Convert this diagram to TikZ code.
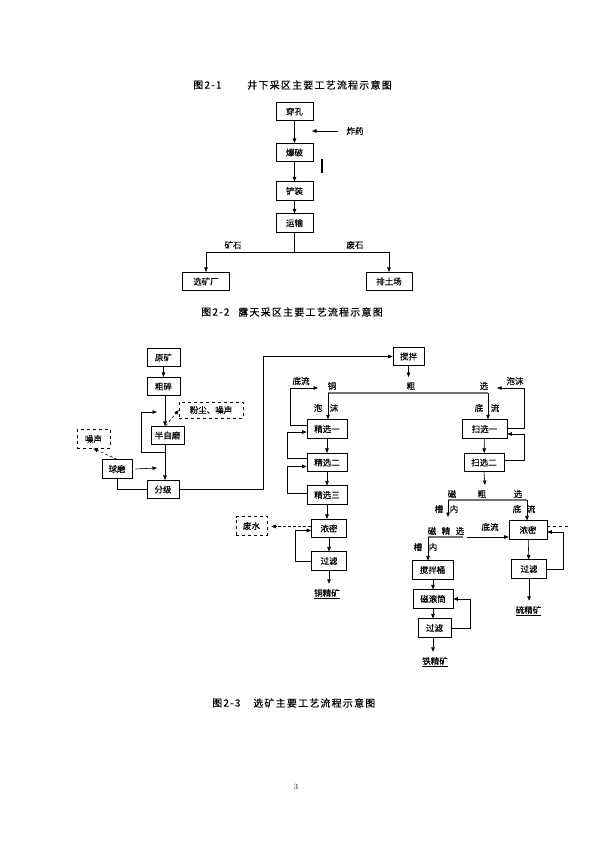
\documentclass[tikz,border=0pt]{standalone}
\usepackage{fontspec}
\newfontfamily\cjk[FakeBold=0.2]{Noto Sans CJK SC}
\newfontfamily\cjkt[LetterSpace=12,FakeBold=0.15]{Noto Sans CJK SC}
\usetikzlibrary{arrows.meta,calc}

\tikzset{
  box/.style={draw, line width=0.6pt, minimum height=18.5pt, inner sep=1pt, font=\cjk\fontsize{8.5}{9}\selectfont},
  dbox/.style={box, dashed},
  lbl/.style={inner sep=0pt, font=\cjk\fontsize{8.5}{9}\selectfont},
  ttl/.style={inner sep=0pt, anchor=west, font=\cjkt\fontsize{10}{12}\selectfont},
  arr/.style={line width=0.6pt, -{Triangle[length=4.5pt,width=3.5pt]}},
  dotarr/.style={arr, densely dashed},
  sepline/.style={line width=1.6pt, draw=black!55}
}

\begin{document}
\begin{tikzpicture}[x=1pt, y=-1pt, line width=0.6pt]
    \path[use as bounding box, fill=white] (0,0) rectangle (595,842);

    % 图2-1 / 图2-2
    \node[ttl] (t1a) at (193,85) {图2-1};
    \node[ttl] (t1b) at (247,85) {井下采区主要工艺流程示意图};
    \node[box, minimum width=37pt] (ck) at (294.5,111.5) {穿孔};
    \node[box, minimum width=37pt] (bp) at (294.5,152.5) {爆破};
    \node[box, minimum width=37pt] (cz) at (294.5,191) {铲装};
    \node[box, minimum width=37pt] (ys) at (294.5,223) {运输};
    \node[box, minimum width=47pt] (xk) at (206,281.5) {选矿厂};
    \node[box, minimum width=46pt] (pt) at (389,281.5) {排土场};
    \node[lbl] (zy) at (355,131) {炸药};
    \coordinate (zye) at (312,131);
    \coordinate (fork) at (294.5,252);
    \draw[arr] (ck) -- (bp);
    \draw[arr] (bp) -- (cz);
    \draw[arr] (cz) -- (ys);
    \draw[arr] ([xshift=-8pt]zy.west) -- (zye);
    \draw[line width=1.6pt] (322,159) -- (322,173);
    \draw (ys) -- (fork);
    \draw[arr] (fork) -| (xk);
    \draw[arr] (fork) -| (pt);
    \node[lbl] at (233,245) {矿石};
    \node[lbl] at (355,245) {废石};
    \node[ttl] (t2a) at (201,312) {图2-2};
    \node[ttl] (t2b) at (238,312) {露天采区主要工艺流程示意图};

    % 图2-3 左部
    \node[box, minimum width=33pt] (ym) at (163.5,357.5) {原矿};
    \node[box, minimum width=33pt] (cs) at (163.5,386.5) {粗碎};
    \node[box, minimum width=33pt] (bzm) at (167.5,435.5) {半自磨};
    \node[dbox, minimum width=64pt, minimum height=16pt] (fc) at (211,410) {粉尘、噪声};
    \node[dbox, minimum width=33pt] (zs) at (93.5,439) {噪声};
    \node[box, minimum width=30pt] (qm) at (117,469) {球磨};
    \node[box, minimum width=32pt] (fj) at (163,489.5) {分级};
    \coordinate (mx) at (165,0);
    \coordinate (lp) at (141,452);
    \coordinate (lpe) at (157,412);
    \coordinate (qme) at (157,468);
    \coordinate (up) at (263,0);
    \draw[arr] (ym) -- (cs);
    \draw[arr] (cs.south -| mx) -- (bzm.north -| mx);
    \draw[arr] (bzm.south -| mx) -- (fj.north -| mx);
    \draw[arr] (mx |- lp) -- (lp) |- (lpe);
    \draw[dotarr] ([xshift=-2pt]bzm.north) -- (fc.west);
    \draw[dotarr] (qm.north) -- (zs.south);
    \draw[arr] ([xshift=3pt]qm.east) -- (qme);
    \draw (fj.west) -| (qm.south);

    % 铜 粗 选
    \node[box, minimum width=31pt] (jb) at (408.5,356.5) {搅拌};
    \coordinate (jbe) at (408.5,377);
    \coordinate (cuL) at (328,393);
    \coordinate (cuR) at (488,393);
    \draw[arr] (fj.east) -| (up |- jb.west) -- (jb.west);
    \draw[arr] (jb.south) -- (jbe);
    \draw[sepline] (cuL) -- (cuR);
    \node[lbl] at (332,386) {铜};
    \node[lbl] at (411,386) {粗};
    \node[lbl] at (484,386) {选};

    \node[box, minimum width=40pt] (jx1) at (327,429) {精选一};
    \node[box, minimum width=40pt] (jx2) at (327,462.5) {精选二};
    \node[box, minimum width=40pt] (jx3) at (327,495) {精选三};
    \node[box, minimum width=35pt] (nm1) at (329,528.5) {浓密};
    \node[box, minimum width=35pt] (gl1) at (329,561) {过滤};
    \node[dbox, minimum width=31pt] (fs) at (251.5,526) {废水};
    \node[lbl] (tjk) at (327,594) {\underline{铜精矿}};
    \coordinate (dl) at (290,388);
    \coordinate (dle) at (318,388);
    \draw[arr] (cuL) -- (cuL |- jx1.north);
    \node[lbl] at (318,408) {泡};
    \node[lbl] at (334,408) {沫};
    \node[lbl] at (301,381) {底流};
    \draw[arr] ([yshift=4pt]jx1.west) -| (dl) -- (dle);
    \draw[arr] ([yshift=4pt]jx2.west) -- ++(-19,0) |- ([yshift=-3pt]jx1.west);
    \draw[arr] ([yshift=2pt]jx3.west) -- ++(-19,0) |- ([yshift=-4pt]jx2.west);
    \draw[arr] (jx1) -- (jx2);
    \draw[arr] (jx2) -- (jx3);
    \draw[arr] (jx3.south) -- (jx3.south |- nm1.north);
    \draw[dotarr, shorten >=4pt] ([yshift=2pt]nm1.west) -- ([yshift=2pt]nm1.west -| fs.east);
    \draw[arr] (nm1) -- (gl1);
    \draw[arr] (gl1.west) -- ++(-16,0) |- ([yshift=-2pt]nm1.west);
    \draw[arr, shorten >=5pt] (gl1.south) -- (gl1.south |- tjk.north);

    % 扫选
    \node[box, minimum width=45pt] (sx1) at (484.5,429) {扫选一};
    \node[box, minimum width=40pt] (sx2) at (484,462.5) {扫选二};
    \coordinate (dre) at (497,388);
    \coordinate (sxe) at (485,485);
    \draw[arr] (cuR) -- (cuR |- sx1.north);
    \node[lbl] at (479,408) {底};
    \node[lbl] at (495,408) {流};
    \node[lbl] at (515,381) {泡沫};
    \draw[arr] ([yshift=1pt]sx1.east) -- ++(17,0) |- (dre);
    \draw[arr] ([yshift=2pt]sx2.east) -- ++(20,0) |- ([yshift=-5pt]sx1.east);
    \draw[arr] (sx1) -- (sx2);
    \draw[arr] (sx2.south) -- (sxe);

    % 磁 粗 选
    \coordinate (mL) at (448,500);
    \coordinate (mR) at (527,500);
    \coordinate (mLe) at (448,517);
    \draw[sepline] (mL) -- (mR);
    \node[lbl] at (452,494) {磁};
    \node[lbl] at (482,494) {粗};
    \node[lbl] at (518,494) {选};
    \node[lbl] at (439,509) {槽};
    \node[lbl] at (454,509) {内};
    \node[lbl] at (517,509) {底};
    \node[lbl] at (531,509) {流};
    \draw[arr] (mL) -- (mLe);

    \node[box, minimum width=38pt] (nm2) at (528,530) {浓密};
    \node[box, minimum width=35pt] (gl2) at (529,569) {过滤};
    \node[lbl] (ljk) at (528.5,611) {\underline{硫精矿}};
    \draw[arr] (mR) -- (mR |- nm2.north);
    \draw[dashed] ([yshift=4pt]nm2.east) -- ++(23,0);
    \draw[arr] (nm2) -- (gl2);
    \draw[arr] (gl2.east) -- ++(16,0) |- ([yshift=-2pt]nm2.east);
    \draw[arr, shorten >=5pt] (gl2.south) -- (gl2.south |- ljk.north);

    % 磁 精 选
    \coordinate (jL) at (428,537);
    \coordinate (jR) at (463,537);
    \draw[sepline] (jL) -- (jR);
    \node[lbl] at (432,531) {磁};
    \node[lbl] at (446,531) {精};
    \node[lbl] at (460,531) {选};
    \node[lbl] at (490,527) {底流};
    \node[lbl] at (418,547) {槽};
    \node[lbl] at (433,547) {内};
    \draw[arr] ([xshift=4pt]jR) -- (jR -| nm2.west);

    \node[box, minimum width=41pt] (jbt) at (432.5,570) {搅拌桶};
    \node[box, minimum width=40pt] (gtt) at (433,599) {磁滚筒};
    \node[box, minimum width=33pt] (gl3) at (434.5,628) {过滤};
    \node[lbl] (tjk2) at (435,662) {\underline{铁精矿}};
    \draw[arr] (jL) -- (jL |- jbt.north);
    \draw[arr] (jbt.south -| gtt.north) -- (gtt.north);
    \draw[arr] (gtt.south) -- (gtt.south |- gl3.north);
    \draw[arr] (gl3.east) -- ++(19,0) |- (gtt.east);
    \draw[arr, shorten >=5pt] (gl3.south -| gtt.south) -- (gtt.south |- tjk2.north);

    \node[ttl] (t3a) at (212,703) {图2-3};
    \node[ttl] (t3b) at (253,703) {选矿主要工艺流程示意图};
    \node[inner sep=0pt, font=\fontsize{8}{9}\selectfont] (pg) at (296,787) {3};
\end{tikzpicture}
\end{document}
